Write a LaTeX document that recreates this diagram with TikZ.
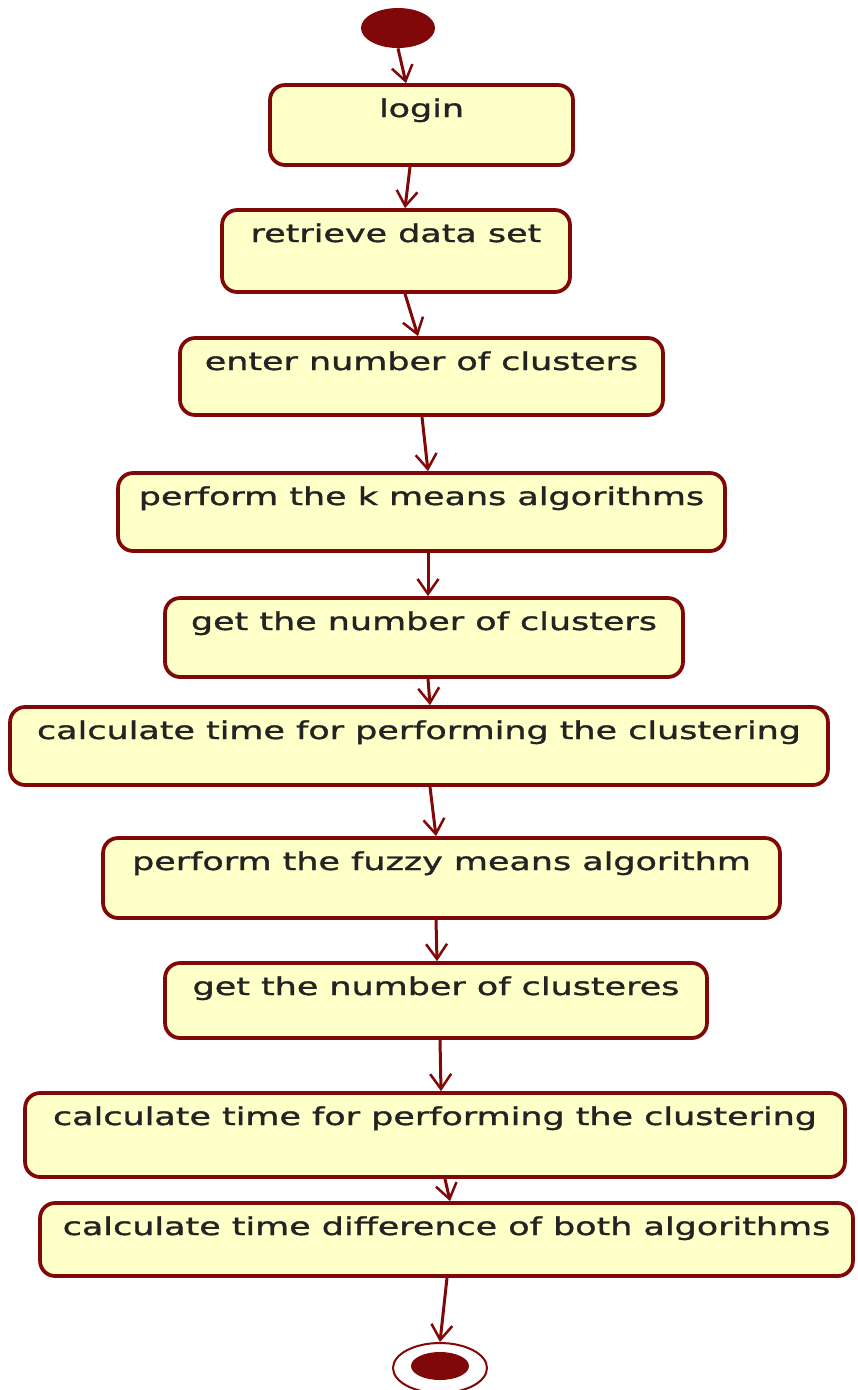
\documentclass[tikz,border=0pt]{standalone}
\usepackage{fontspec}
\usetikzlibrary{arrows.meta,shapes.geometric}
\newfontfamily\actfont[FakeStretch=1.42,FakeBold=1.3]{DejaVu Sans}
\definecolor{umlred}{RGB}{128,8,8}
\definecolor{umlfill}{RGB}{255,255,200}
\definecolor{umltext}{RGB}{35,35,35}
\tikzset{
  act/.style={draw=umlred, line width=0.075cm, fill=umlfill, rounded corners=0.3cm,
    text=umltext, font=\actfont\fontsize{14}{16}\selectfont,
    inner xsep=0pt, inner ysep=0pt, text height=0.64cm},
  flow/.style={draw=umlred, line width=0.06cm,
    -{Straight Barb[length=0.3cm, width=0.42cm, line width=0.05cm]}},
}
\begin{document}
\begin{tikzpicture}[x=0.02cm, y=-0.02cm]
\useasboundingbox (0,0) rectangle (858,1390);

% initial state
\node[ellipse, fill=umlred, minimum width=1.48cm, minimum height=0.8cm, inner sep=0pt] (start) at (398,28) {};

% activities (width and depth set per box)
\node[act, minimum width=6.06cm, text depth=0.96cm] (login) at (421.5,125) {login};
\node[act, minimum width=6.96cm, text depth=1.0cm] (retrieve) at (396,251) {retrieve data set};
\node[act, minimum width=9.66cm, text depth=0.90cm] (enter) at (421.5,376.5) {enter number of clusters};
\node[act, minimum width=12.14cm, text depth=0.92cm] (kmeans) at (421.5,512) {perform the k means algorithms};
\node[act, minimum width=10.36cm, text depth=0.94cm] (get1) at (424,637.5) {get the number of clusters};
\node[act, minimum width=16.36cm, text depth=0.92cm] (calc1) at (419,746) {calculate time for performing the clustering};
\node[act, minimum width=13.54cm, text depth=0.96cm] (fuzzy) at (441.5,878) {perform the fuzzy means algorithm};
\node[act, minimum width=10.84cm, text depth=0.86cm] (get2) at (436,1000.5) {get the number of clusteres};
\node[act, minimum width=16.4cm, text depth=1.04cm] (calc2) at (435,1135) {calculate time for performing the clustering};
\node[act, minimum width=16.26cm, text depth=0.82cm] (diff) at (446.5,1239.5) {calculate time difference of both algorithms};

% final state
\node[ellipse, draw=umlred, line width=0.04cm, fill=white, minimum width=1.88cm, minimum height=1.0cm, inner sep=0pt] (end) at (440,1368) {};
\node[ellipse, fill=umlred, minimum width=1.16cm, minimum height=0.56cm, inner sep=0pt] (endcore) at (440,1366) {};

% control flow
\draw[flow] (start.south) -- (login.north -| 406,0);
\draw[flow] (login.south -| 410,0) -- (retrieve.north -| 405,0);
\draw[flow] (retrieve.south -| 405,0) -- (enter.north -| 418,0);
\draw[flow] (enter.south -| 422,0) -- (kmeans.north -| 428,0);
\draw[flow] (kmeans.south -| 428,0) -- (get1.north -| 428,0);
\draw[flow] (get1.south -| 428,0) -- (calc1.north -| 430,0);
\draw[flow] (calc1.south -| 430,0) -- (fuzzy.north -| 436,0);
\draw[flow] (fuzzy.south -| 436,0) -- (get2.north -| 437,0);
\draw[flow] (get2.south -| 440,0) -- (calc2.north -| 441,0);
\draw[flow] (calc2.south -| 445,0) -- (diff.north -| 450,0);
\draw[flow] (diff.south -| 447,0) -- (end.north);
\end{tikzpicture}
\end{document}
